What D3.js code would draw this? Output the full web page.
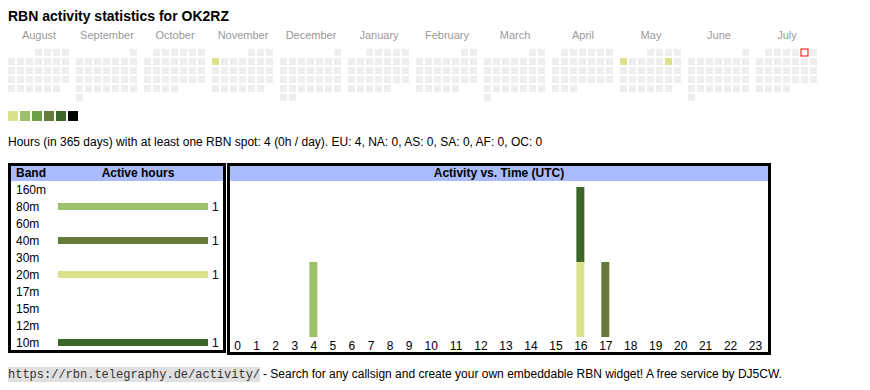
<!DOCTYPE html>
<html lang="en">
  <head>
    <meta charset="UTF-8" />
    <title>RBN activity statistics for OK2RZ</title>
    <style>
      body { margin: 0; background: #fff; }
      text { font-family: "Liberation Sans", Arial, sans-serif; }
    </style>
  </head>
  <body>
    <svg width="870" height="390"></svg>
    <script src="https://cdn.jsdelivr.net/npm/d3@7"></script>
    <script>
      // calendar: Aug 2024 .. Jul 2025
      var months = ["August", "September", "October", "November", "December", "January",
                    "February", "March", "April", "May", "June", "July"];
      var activeDays = ["2024-11-04", "2025-05-05", "2025-05-10"];
      var activeLevels = [1, 1, 1];
      var today = "2025-07-05";
      var levelColors = ["#eeeeee", "#dbe28b", "#9dc16a", "#6a9f45", "#677b3c", "#3d6629", "#000000"];

      // bands table
      var bands = ["160m", "80m", "60m", "40m", "30m", "20m", "17m", "15m", "12m", "10m"];
      var bandHours = [0, 1, 0, 1, 0, 1, 0, 0, 0, 1];
      var bandColors = ["#a0522d", "#9dc06a", "#c8a0e0", "#667a3c", "#e0a060", "#dbe28b",
                        "#80c0e0", "#e08080", "#a0a0a0", "#3c6628"];

      // activity vs. time: one entry per active hour
      var hourLabels = ["0", "1", "2", "3", "4", "5", "6", "7", "8", "9", "10", "11",
                        "12", "13", "14", "15", "16", "17", "18", "19", "20", "21", "22", "23"];
      var spotHours = [4, 16, 16, 17];
      var spotBands = ["80m", "20m", "10m", "40m"];

      var summary = "Hours (in 365 days) with at least one RBN spot: 4 (0h / day). EU: 4, NA: 0, AS: 0, SA: 0, AF: 0, OC: 0";

      var svg = d3.select("svg");

      svg.append("text")
        .attr("x", 8).attr("y", 21)
        .style("font-size", "14px").style("font-weight", "bold")
        .text("RBN activity statistics for OK2RZ");

      // ---- calendar ----
      var start = new Date(Date.UTC(2024, 7, 1));
      var end = new Date(Date.UTC(2025, 7, 1));
      var monthX = d3.scaleLinear().domain([0, 12]).range([8, 8 + 12 * 68]);
      var colX = d3.scaleLinear().domain([0, 7]).range([0, 63]);
      var rowY = d3.scaleLinear().domain([0, 6]).range([49, 49 + 54]);
      var level = d3.scaleOrdinal().domain(d3.range(levelColors.length)).range(levelColors);

      var dayLevel = {};
      activeDays.forEach(function(d, i) { dayLevel[d] = activeLevels[i]; });
      var fmt = d3.utcFormat("%Y-%m-%d");

      svg.selectAll("text.month").data(months).enter().append("text")
        .attr("class", "month")
        .attr("x", function(d, i) { return monthX(i) + 31; })
        .attr("y", 39)
        .attr("text-anchor", "middle")
        .style("font-size", "11px").style("fill", "#999")
        .text(function(d) { return d; });

      var days = d3.utcDays(start, end);
      svg.selectAll("rect.day").data(days).enter().append("rect")
        .attr("class", "day")
        .attr("x", function(d) {
          var m = d3.utcMonth.count(start, d);
          return monthX(m) + colX((d.getUTCDay() + 6) % 7);
        })
        .attr("y", function(d) { return rowY(d3.utcMonday.count(d3.utcMonth(d), d)); })
        .attr("width", 7).attr("height", 7)
        .attr("fill", function(d) {
          if (fmt(d) === today) return "#fff";
          return level(dayLevel[fmt(d)] || 0);
        })
        .attr("stroke", function(d) { return fmt(d) === today ? "#f00" : "none"; });

      svg.selectAll("rect.legend").data(levelColors.slice(1)).enter().append("rect")
        .attr("class", "legend")
        .attr("x", function(d, i) { return 8 + i * 12; })
        .attr("y", 111).attr("width", 10).attr("height", 10)
        .attr("fill", function(d) { return d; });

      svg.append("text")
        .attr("x", 8).attr("y", 146)
        .style("font-size", "12px")
        .text(summary);

      // ---- band table ----
      var left = svg.append("g");
      left.append("rect").attr("x", 10).attr("y", 165).attr("width", 214).attr("height", 16).attr("fill", "#aabbfd");
      left.append("rect").attr("x", 9.5).attr("y", 164.5).attr("width", 215).attr("height", 187)
        .attr("fill", "none").attr("stroke", "#000").attr("stroke-width", 3);
      left.append("text").attr("x", 16).attr("y", 177).style("font-size", "12px").style("font-weight", "bold").text("Band");
      left.append("text").attr("x", 138).attr("y", 177).attr("text-anchor", "middle")
        .style("font-size", "12px").style("font-weight", "bold").text("Active hours");

      var bandY = d3.scaleBand().domain(bands).range([181, 351]);
      var barX = d3.scaleLinear().domain([0, d3.max(bandHours)]).range([0, 150]);
      var bandColor = d3.scaleOrdinal().domain(bands).range(bandColors);

      var rows = left.selectAll("g.band").data(bands).enter().append("g")
        .attr("class", "band")
        .attr("transform", function(d) { return "translate(0," + (bandY(d) + bandY.bandwidth() / 2) + ")"; });
      rows.append("text").attr("x", 16).attr("y", 4).style("font-size", "12px").text(function(d) { return d; });
      rows.filter(function(d, i) { return bandHours[i] > 0; }).append("rect")
        .attr("x", 58).attr("y", -3.5).attr("height", 7)
        .attr("width", function(d) { return barX(bandHours[bands.indexOf(d)]); })
        .attr("fill", function(d) { return bandColor(d); });
      rows.filter(function(d, i) { return bandHours[i] > 0; }).append("text")
        .attr("x", function(d) { return 58 + barX(bandHours[bands.indexOf(d)]) + 4; })
        .attr("y", 4).style("font-size", "12px")
        .text(function(d) { return bandHours[bands.indexOf(d)]; });

      // ---- activity vs time ----
      var right = svg.append("g");
      right.append("rect").attr("x", 229).attr("y", 165).attr("width", 541).attr("height", 16).attr("fill", "#aabbfd");
      right.append("rect").attr("x", 228.5).attr("y", 164.5).attr("width", 541).attr("height", 189)
        .attr("fill", "none").attr("stroke", "#000").attr("stroke-width", 3);
      right.append("text").attr("x", 499).attr("y", 177).attr("text-anchor", "middle")
        .style("font-size", "12px").style("font-weight", "bold").text("Activity vs. Time (UTC)");

      // table-like column widths: wider columns for two-digit labels
      var weights = hourLabels.map(function(l) { return l.length + 2.24; });
      var cum = [0];
      weights.forEach(function(w, i) { cum.push(cum[i] + w); });
      var colPos = d3.scaleLinear().domain([0, cum[cum.length - 1]]).range([228, 768]);
      var hourX = d3.scaleOrdinal().domain(hourLabels.map(function(l, i) { return i; }))
        .range(hourLabels.map(function(l, i) { return colPos(cum[i] + weights[i] / 2); }));

      var table = hourLabels.map(function(l, h) {
        var row = { hour: h };
        bands.forEach(function(b) { row[b] = 0; });
        spotHours.forEach(function(sh, j) { if (sh === h) row[spotBands[j]] += 1; });
        return row;
      });
      var series = d3.stack().keys(bands)(table);
      var yMax = d3.max(series[series.length - 1], function(d) { return d[1]; });
      var y = d3.scaleLinear().domain([0, yMax]).range([337, 187]);

      right.selectAll("g.layer").data(series).enter().append("g")
        .attr("class", "layer")
        .attr("fill", function(d) { return bandColor(d.key); })
        .selectAll("rect").data(function(d) { return d.filter(function(p) { return p[1] > p[0]; }); })
        .enter().append("rect")
        .attr("x", function(d) { return hourX(d.data.hour) - 4.5; })
        .attr("width", 8)
        .attr("y", function(d) { return y(d[1]); })
        .attr("height", function(d) { return y(d[0]) - y(d[1]); });

      right.selectAll("text.hour").data(hourLabels).enter().append("text")
        .attr("class", "hour")
        .attr("x", function(d, i) { return hourX(i); })
        .attr("y", 350).attr("text-anchor", "middle")
        .style("font-size", "12px")
        .text(function(d) { return d; });

      // ---- footer ----
      var link = "https://rbn.telegraphy.de/activity/";
      svg.append("rect").attr("x", 8).attr("y", 367).attr("width", 252).attr("height", 15).attr("fill", "#e0e0e0");
      svg.append("text").attr("x", 8).attr("y", 378)
        .style("font-family", "'Liberation Mono', 'Courier New', monospace").style("font-size", "12px").style("fill", "#333")
        .text(link);
      svg.append("text").attr("x", 263).attr("y", 378).style("font-size", "12px")
        .text("- Search for any callsign and create your own embeddable RBN widget! A free service by DJ5CW.");
    </script>
  </body>
</html>
